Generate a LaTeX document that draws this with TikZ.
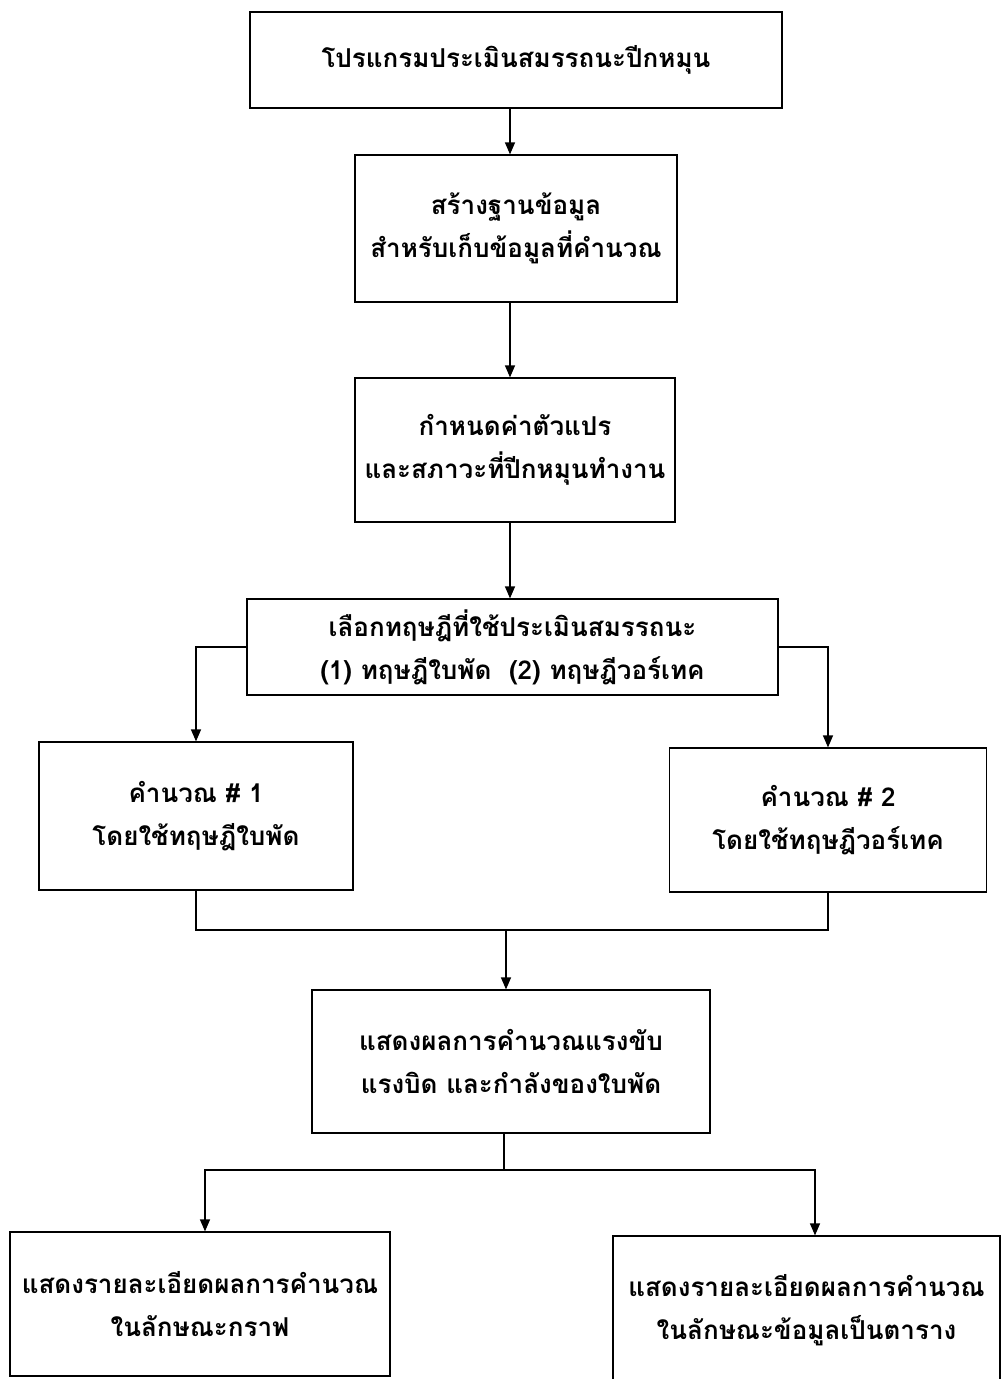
\documentclass[tikz,border=0pt]{standalone}
\usepackage{fontspec}
\newfontfamily\thaifont[Script=Thai]{Loma}
\usetikzlibrary{arrows.meta}
\begin{document}
\begin{tikzpicture}[x=1pt,y=-1pt,
  box/.style={draw,line width=1.2pt,rectangle,inner sep=0pt,align=center,
    font=\thaifont\bfseries\fontsize{26}{43}\selectfont},
  arr/.style={line width=1.2pt,-{Triangle[length=12pt,width=10pt]}},
  ln/.style={line width=1.2pt}]
\useasboundingbox[fill=white] (0,0) rectangle (1008,1379);
\node[box,minimum width=532pt,minimum height=96pt] (b1) at (516,60) {โปรแกรมประเมินสมรรถนะปีกหมุน};
\node[box,minimum width=322pt,minimum height=147pt] (b2) at (516,228.5) {สร้างฐานข้อมูล\\สำหรับเก็บข้อมูลที่คำนวณ};
\node[box,minimum width=320pt,minimum height=144pt] (b3) at (515,450) {กำหนดค่าตัวแปร\\และสภาวะที่ปีกหมุนทำงาน};
\node[box,minimum width=531pt,minimum height=96pt] (b4) at (512.5,647) {เลือกทฤษฎีที่ใช้ประเมินสมรรถนะ\\(1) ทฤษฎีใบพัด~~(2) ทฤษฎีวอร์เทค};
\node[box,minimum width=314pt,minimum height=148pt] (b5) at (196,816) {คำนวณ \# 1\\โดยใช้ทฤษฎีใบพัด};
\node[box,minimum width=317pt,minimum height=144pt] (b6) at (828,820) {คำนวณ \# 2\\โดยใช้ทฤษฎีวอร์เทค};
\node[box,minimum width=398pt,minimum height=143pt] (b7) at (511,1061.5) {แสดงผลการคำนวณแรงขับ\\แรงบิด และกำลังของใบพัด};
\node[box,minimum width=380pt,minimum height=144pt] (b8) at (200,1304) {แสดงรายละเอียดผลการคำนวณ\\ในลักษณะกราฟ};
\node[box,minimum width=387pt,minimum height=148pt] (b9) at (806.5,1310) {แสดงรายละเอียดผลการคำนวณ\\ในลักษณะข้อมูลเป็นตาราง};
\coordinate (xa) at (510,0);
\coordinate (m) at (506,930);
\coordinate (s) at (504,1170);
\coordinate (l8) at (205,0);
\coordinate (r9) at (815,0);
\draw[arr] (b1.south -| xa) -- (b2.north -| xa);
\draw[arr] (b2.south -| xa) -- (b3.north -| xa);
\draw[arr] (b3.south -| xa) -- (b4.north -| xa);
\draw[arr] (b4.west) -| (b5.north);
\draw[arr] (b4.east) -| (b6.north);
\draw[ln] (b5.south) |- (m) -| (b6.south);
\draw[arr] (m) -- (b7.north -| m);
\draw[ln] (b7.south -| s) -- (s);
\draw[arr] (s) -| (b8.north -| l8);
\draw[arr] (s) -| (b9.north -| r9);
\end{tikzpicture}
\end{document}
